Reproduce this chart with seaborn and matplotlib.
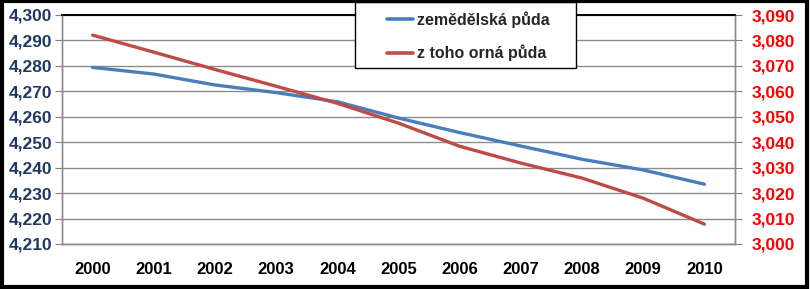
import matplotlib
matplotlib.use("Agg")
import matplotlib.pyplot as plt
import matplotlib.ticker as mticker
from matplotlib.lines import Line2D
from matplotlib.patches import Rectangle
import seaborn as sns
import pandas as pd
import numpy as np

years = [2000, 2001, 2002, 2003, 2004, 2005, 2006, 2007, 2008, 2009, 2010]
zemedelska = [4279.4, 4276.8, 4272.5, 4269.5, 4265.9, 4259.5, 4253.8, 4248.5, 4243.3, 4239.1, 4233.5]
orna = [3082.1, 3075.4, 3068.6, 3062.0, 3055.3, 3047.5, 3038.4, 3031.8, 3025.9, 3018.0, 3007.8]
label_z = "zemědělská půda"
label_o = "z toho orná půda"

sns.set_style("white")
plt.rcParams['font.family'] = ['Liberation Sans', 'DejaVu Sans']

df = pd.DataFrame({"pos": np.arange(len(years)), "z": zemedelska, "o": orna})

fig = plt.figure(figsize=(8.10, 2.89), dpi=100)
ax = fig.add_axes([62/810, 45/289, (735-62)/810, (244-15)/289])
ax2 = ax.twinx()

blue = "#4A7EBB"
red = "#BE4B48"
sns.lineplot(data=df, x="pos", y="z", ax=ax, color=blue, linewidth=2.4)
sns.lineplot(data=df, x="pos", y="o", ax=ax2, color=red, linewidth=2.4)

ax.set_xlim(-0.5, len(years) - 0.5)
ax.set_ylim(4210, 4300)
ax2.set_ylim(3000, 3090)
ax.set_yticks(np.arange(4210, 4301, 10))
ax2.set_yticks(np.arange(3000, 3091, 10))
fmt = mticker.FuncFormatter(lambda v, p: f"{v:,.0f}")
ax.yaxis.set_major_formatter(fmt)
ax2.yaxis.set_major_formatter(fmt)

ax.set_xticks(np.arange(len(years)))
ax.set_xticklabels([str(y) for y in years])
ax.set_xticks(np.arange(-0.5, len(years), 1.0), minor=True)
ax.tick_params(axis='x', which='major', length=0, pad=13, labelsize=12, labelcolor='black')
ax.tick_params(axis='x', which='minor', length=5, color='#808080', direction='out')
for lbl in ax.get_xticklabels():
    lbl.set_fontweight('bold')

ax.tick_params(axis='y', length=5, color='#808080', direction='out', labelsize=12.5,
               labelcolor='#1F3864', pad=2)
ax2.tick_params(axis='y', length=5, color='#808080', direction='out', labelsize=12.5,
                labelcolor='#FF0000', pad=7)
for lbl in ax.get_yticklabels() + ax2.get_yticklabels():
    lbl.set_fontweight('bold')

ax.grid(axis='y', color='#8C8C8C', linewidth=1.0)
ax.grid(axis='x', visible=False)
ax2.grid(False)
ax.set_xlabel("")
ax.set_ylabel("")
ax2.set_ylabel("")

for a in (ax, ax2):
    for s in ['left', 'right', 'bottom']:
        a.spines[s].set_color('#8C8C8C')
        a.spines[s].set_linewidth(1.0)
    a.spines['top'].set_color('black')
    a.spines['top'].set_linewidth(1.2)

# legend frame drawn as a box
fig.patches.append(Rectangle((355/810, 1 - 68/289), (576-355)/810, 66/289,
                             transform=fig.transFigure, facecolor='white',
                             edgecolor='black', linewidth=1.0, zorder=9))
handles = [Line2D([0], [0], color=blue, linewidth=2.6),
           Line2D([0], [0], color=red, linewidth=2.6)]
leg = fig.legend(handles, [label_z, label_o], loc='upper left',
                 bbox_to_anchor=(384/810, 1 - 8/289), frameon=False,
                 handlelength=1.6, handletextpad=0.25,
                 labelspacing=1.05, borderpad=0.2, borderaxespad=0,
                 prop={'weight': 'bold', 'size': 11.5})
leg.set_zorder(10)

fig.patches.append(Rectangle((0.002, 0.006), 0.994, 0.99, transform=fig.transFigure,
                             fill=False, edgecolor='black', linewidth=3, zorder=20))

fig.savefig("out.png", dpi=100)
